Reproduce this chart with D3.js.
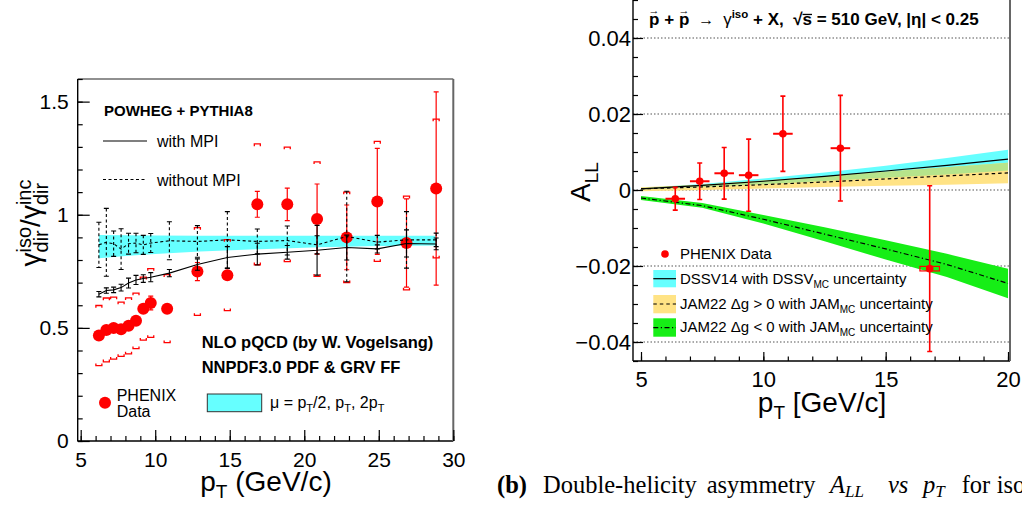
<!DOCTYPE html>
<html><head><meta charset="utf-8">
<script src="https://cdn.jsdelivr.net/npm/d3@7/dist/d3.min.js"></script>
<style>html,body{margin:0;padding:0;background:#fff;overflow:hidden}svg{display:block}svg text{white-space:pre}</style>
</head><body>
<svg id="chart" width="1022" height="514"></svg>
<script>
// ===== Left panel: gamma_iso / gamma_inc (direct) =====
const ratioPt   = [6.22,6.72,7.21,7.71,8.21,8.71,9.2,9.7,10.8,12.83,14.84,16.85,18.86,20.86,22.85,24.9,26.86,28.85];
const ratioVal  = [0.466,0.491,0.499,0.494,0.509,0.531,0.585,0.61,0.585,0.749,0.733,1.046,1.046,0.981,0.9,1.059,0.875,1.116];
const ratioStat = [0.008,0.008,0.008,0.008,0.008,0.01,0.012,0.03,0.01,0.04,0.01,0.057,0.072,0.155,0.143,0.234,0.195,0.427];
const ratioSys  = [0.133,0.141,0.137,0.12,0.124,0.123,0.139,0.152,0.15,0.194,0.157,0.267,0.253,0.253,0.2,0.265,0.207,0.307];
const mpiPt     = [6.22,6.72,7.21,7.71,8.21,8.71,9.2,9.7,10.95,12.83,14.84,16.85,18.86,20.86,22.85,24.9,26.86,28.85];
const mpiVal    = [0.649,0.665,0.668,0.678,0.698,0.712,0.718,0.724,0.742,0.78,0.811,0.826,0.834,0.843,0.855,0.849,0.873,0.871];
const mpiErr    = [0.012,0.012,0.012,0.015,0.022,0.02,0.017,0.02,0.016,0.025,0.048,0.048,0.03,0.11,0.055,0.018,0.06,0.026];
const noMpiVal  = [0.867,0.878,0.872,0.848,0.872,0.875,0.867,0.875,0.885,0.882,0.889,0.882,0.886,0.867,0.904,0.879,0.889,0.889];
const noMpiErr  = [0.1,0.15,0.056,0.09,0.046,0.043,0.042,0.042,0.084,0.07,0.125,0.055,0.064,0.04,0.2,0.03,0.125,0.03];
const scalePt   = [6.22,8,10,13,17,21,25,28.85];
const scaleLo   = [0.808,0.818,0.827,0.838,0.848,0.856,0.862,0.864];
const scaleHi   = [0.91,0.909,0.908,0.907,0.907,0.907,0.907,0.907];
const leftXTicks = [5,10,15,20,25,30];
const leftYTicks = [0,0.5,1,1.5];

// ===== Right panel: A_LL =====
const allPt  = [6.4,7.4,8.4,9.4,10.8,13.15,16.8];
const allVal = [-0.0023,0.0023,0.0044,0.0039,0.0148,0.011,-0.0207];
const allErr = [0.003,0.0048,0.0068,0.0095,0.0099,0.0139,0.0218];
const allBin = [0.4,0.4,0.4,0.4,0.4,0.4,0.4];
const allSys = [0,0,0,0,0,0,0.0006];
const thPt   = [5,7.5,10,12.5,15,17.5,20];
const dssvC  = [0.0003,0.0012,0.0023,0.0036,0.0050,0.0065,0.0081];
const dssvLo = [0.0001,0.0008,0.0015,0.0024,0.0032,0.0041,0.0051];
const dssvHi = [0.0005,0.0016,0.0030,0.0046,0.0064,0.0084,0.0106];
const jamPC  = [0.0003,0.0008,0.0014,0.0021,0.0029,0.0037,0.0045];
const jamPLo = [-0.0003,0.0000,0.0004,0.0008,0.0011,0.0014,0.0018];
const jamPHi = [0.0007,0.0014,0.0025,0.0036,0.0048,0.0060,0.0072];
const jamNC  = [-0.0021,-0.0041,-0.0077,-0.0116,-0.0155,-0.0196,-0.0246];
const jamNLo = [-0.0026,-0.0047,-0.0088,-0.0135,-0.0183,-0.0229,-0.0285];
const jamNHi = [-0.0016,-0.0034,-0.0066,-0.0098,-0.0132,-0.0168,-0.0207];
const rightXTicks = [5,10,15,20];
const rightYTicks = [-0.04,-0.02,0,0.02,0.04];

const SANS = "'Liberation Sans', Arial, Helvetica, sans-serif";
const SERIF = "'Liberation Serif', 'Times New Roman', serif";
const svg = d3.select("#chart");

// rich text helper (sub/superscripts, stacked scripts, overlines)
function rich(parent, x, y, parts, o = {}) {
  const outer = parent.append("g").attr("transform", `translate(${x},${y})` + (o.rot ? ` rotate(${o.rot})` : ""));
  const g = outer.append("g");
  let cx = 0, prevStart = 0;
  for (const p of parts) {
    const s = p.s || o.s || 16;
    const t = g.append("text").text(p.t)
      .attr("xml:space", "preserve")
      .style("white-space", "pre")
      .attr("font-size", s)
      .attr("font-weight", (p.b !== undefined ? p.b : o.b) ? "bold" : "normal")
      .attr("font-style", p.i ? "italic" : "normal")
      .attr("font-family", p.f || o.f || SANS)
      .attr("fill", p.c || o.c || "#000")
      .attr("y", p.dy || 0);
    const start = p.stack ? prevStart + (p.dx || 0) : cx + (p.dx || 0);
    t.attr("x", start);
    const w = t.node().getComputedTextLength();
    if (p.over) {
      g.append("line").attr("x1", start).attr("x2", start + w)
        .attr("y1", (p.dy || 0) - s * 0.62).attr("y2", (p.dy || 0) - s * 0.62)
        .attr("stroke", "#000").attr("stroke-width", 1.3);
    }
    if (!p.stack) prevStart = start;
    cx = p.stack ? Math.max(cx, start + w) : start + w;
  }
  const anchor = o.anchor || "start";
  const off = anchor === "middle" ? -cx / 2 : anchor === "end" ? -cx : 0;
  g.attr("transform", `translate(${off},0)`);
  return outer;
}
function styleAxis(g, size) {
  g.select(".domain").remove();
  g.selectAll("text").attr("font-size", size).attr("font-family", SANS).attr("fill", "#000");
  g.selectAll("line").attr("stroke", "#000").attr("stroke-width", 1.2);
}

// ================= LEFT PANEL =================
const xL = d3.scaleLinear().domain([5, 30]).range([80.7, 453.3]);
const yL = d3.scaleLinear().domain([0, 1.6]).range([441, 79]);
const L = svg.append("g");

const scaleRows = scalePt.map((p, i) => ({ p, lo: scaleLo[i], hi: scaleHi[i] }));
L.append("path").datum(scaleRows)
  .attr("d", d3.area().x(d => xL(d.p)).y0(d => yL(d.lo)).y1(d => yL(d.hi)))
  .attr("fill", "#66ffff");

// PHENIX data
const rRows = ratioPt.map((p, i) => ({ p, v: ratioVal[i], e: ratioStat[i], s: ratioSys[i] }));
const rg = L.append("g");
rRows.forEach(d => {
  const x = xL(d.p);
  const yu = yL(d.v + d.s), yd = yL(d.v - d.s);
  rg.append("path").attr("d", `M${x-3},${yu+2.2}V${yu}H${x+3}V${yu+2.2}M${x-3},${yd-2.2}V${yd}H${x+3}V${yd-2.2}`)
    .attr("fill", "none").attr("stroke", "#f00").attr("stroke-width", 1.3);
  const ya = yL(d.v + d.e), yb = yL(d.v - d.e);
  rg.append("path").attr("d", `M${x},${ya}V${yb}M${x-2.5},${ya}H${x+2.5}M${x-2.5},${yb}H${x+2.5}`)
    .attr("fill", "none").attr("stroke", "#f00").attr("stroke-width", 1.2);
  rg.append("circle").attr("cx", x).attr("cy", yL(d.v)).attr("r", 6).attr("fill", "#f00");
});

// POWHEG curves
function drawSeries(vals, errs, dash) {
  const rows = mpiPt.map((p, i) => ({ p, v: vals[i], e: errs[i] }));
  const g = L.append("g");
  g.append("path").datum(rows).attr("d", d3.line().x(d => xL(d.p)).y(d => yL(d.v)))
    .attr("fill", "none").attr("stroke", "#000").attr("stroke-width", 1.1)
    .attr("stroke-dasharray", dash || null);
  rows.forEach(d => {
    const x = xL(d.p), ya = yL(d.v + d.e), yb = yL(d.v - d.e);
    g.append("line").attr("x1", x).attr("x2", x).attr("y1", ya).attr("y2", yb)
      .attr("stroke", "#000").attr("stroke-width", 1.1).attr("stroke-dasharray", dash || null);
    g.append("path").attr("d", `M${x-2.5},${ya}H${x+2.5}M${x-2.5},${yb}H${x+2.5}`)
      .attr("stroke", "#000").attr("stroke-width", 1.1);
  });
}
drawSeries(noMpiVal, noMpiErr, "3,2.5");
drawSeries(mpiVal, mpiErr, null);

// frame
L.append("line").attr("x1", 77.7).attr("x2", 77.7).attr("y1", 79).attr("y2", 441).attr("stroke", "#000").attr("stroke-width", 1.4);
L.append("line").attr("x1", 77.7).attr("x2", 453.3).attr("y1", 441).attr("y2", 441).attr("stroke", "#000").attr("stroke-width", 1.4);
L.append("line").attr("x1", 77.7).attr("x2", 453.3).attr("y1", 79).attr("y2", 79).attr("stroke", "#222").attr("stroke-width", 1.2);
L.append("line").attr("x1", 453.3).attr("x2", 453.3).attr("y1", 79).attr("y2", 441).attr("stroke", "#666").attr("stroke-width", 2);

// axes
L.append("g").attr("transform", "translate(0,441)")
  .call(d3.axisBottom(xL).tickValues(d3.range(5, 31)).tickSize(-5).tickFormat(""))
  .call(g => styleAxis(g, 21));
L.append("g").attr("transform", "translate(0,441)")
  .call(d3.axisBottom(xL).tickValues(leftXTicks).tickSize(-11).tickPadding(11).tickFormat(d3.format("d")))
  .call(g => styleAxis(g, 21));
L.append("g").attr("transform", "translate(77.7,0)")
  .call(d3.axisLeft(yL).tickValues(d3.range(0, 17).map(i => i / 10)).tickSize(-5).tickFormat(""))
  .call(g => styleAxis(g, 21));
L.append("g").attr("transform", "translate(77.7,0)")
  .call(d3.axisLeft(yL).tickValues(leftYTicks).tickSize(-12).tickPadding(9).tickFormat(d => d === 0 ? "0" : d === 1 ? "1" : d3.format(".1f")(d)))
  .call(g => styleAxis(g, 21));

// axis titles
rich(L, 266, 491, [{ t: "p" }, { t: "T", s: 19, dy: 7 }, { t: " (GeV/c)" }], { s: 28, anchor: "middle" });
rich(L, 40, 223, [
  { t: "γ" }, { t: "iso", s: 20, dy: -9 }, { t: "dir", s: 20, dy: 8, stack: true },
  { t: "/" }, { t: "γ" }, { t: "inc", s: 20, dy: -9 }, { t: "dir", s: 20, dy: 8, stack: true }
], { s: 28, anchor: "middle", rot: -90 });

// legends / labels
rich(L, 104, 116, [{ t: "POWHEG + PYTHIA8" }], { s: 15, b: true });
L.append("line").attr("x1", 103).attr("x2", 147).attr("y1", 141).attr("y2", 141).attr("stroke", "#000").attr("stroke-width", 1.1);
rich(L, 157, 147, [{ t: "with MPI" }], { s: 16 });
L.append("line").attr("x1", 103).attr("x2", 147).attr("y1", 179.5).attr("y2", 179.5).attr("stroke", "#000").attr("stroke-width", 1.1).attr("stroke-dasharray", "3,2.5");
rich(L, 157, 185.5, [{ t: "without MPI" }], { s: 16 });
rich(L, 201.7, 348.3, [{ t: "NLO pQCD (by W. Vogelsang)" }], { s: 16.5, b: true });
rich(L, 201.7, 373.3, [{ t: "NNPDF3.0 PDF & GRV FF" }], { s: 16.5, b: true });
L.append("circle").attr("cx", 105).attr("cy", 402.7).attr("r", 6).attr("fill", "#f00");
rich(L, 116.7, 400.7, [{ t: "PHENIX" }], { s: 16 });
rich(L, 116.7, 416.7, [{ t: "Data" }], { s: 16 });
L.append("rect").attr("x", 207.3).attr("y", 394).attr("width", 54.4).attr("height", 17.7)
  .attr("fill", "#66ffff").attr("stroke", "#333").attr("stroke-width", 1);
rich(L, 270, 408.3, [
  { t: "μ = p" }, { t: "T", s: 11, dy: 4 }, { t: "/2, p" }, { t: "T", s: 11, dy: 4 }, { t: ", 2p" }, { t: "T", s: 11, dy: 4 }
], { s: 16 });

// ================= RIGHT PANEL =================
const xR = d3.scaleLinear().domain([5, 20]).range([641, 1008]);
const yR = d3.scaleLinear().domain([-0.045, 0.05]).range([361, 0]);
const R = svg.append("g");

// grid
R.append("g").selectAll("line").data(rightYTicks).join("line")
  .attr("x1", 633).attr("x2", 1010).attr("y1", d => yR(d)).attr("y2", d => yR(d))
  .attr("stroke", "#555").attr("stroke-width", 1.2).attr("stroke-dasharray", "1.5,2");

const rowsOf = (c, lo, hi) => thPt.map((p, i) => ({ p, c: c[i], lo: lo[i], hi: hi[i] }));
const dssv = rowsOf(dssvC, dssvLo, dssvHi);
const jamP = rowsOf(jamPC, jamPLo, jamPHi);
const jamN = rowsOf(jamNC, jamNLo, jamNHi);
const overlap = thPt.map((p, i) => ({ p, lo: Math.max(dssvLo[i], jamPLo[i]), hi: Math.min(dssvHi[i], jamPHi[i]) }));
const area = d3.area().x(d => xR(d.p)).y0(d => yR(d.lo)).y1(d => yR(d.hi));
const cline = d3.line().x(d => xR(d.p)).y(d => yR(d.c));
R.append("path").datum(jamN).attr("d", area).attr("fill", "#16ee16");
R.append("path").datum(dssv).attr("d", area).attr("fill", "#66ffff");
R.append("path").datum(jamP).attr("d", area).attr("fill", "#ffe385");
R.append("path").datum(overlap).attr("d", area).attr("fill", "#b6e48b");
R.append("path").datum(dssv).attr("d", cline).attr("fill", "none").attr("stroke", "#000").attr("stroke-width", 1.2);
R.append("path").datum(jamP).attr("d", cline).attr("fill", "none").attr("stroke", "#000").attr("stroke-width", 1.2).attr("stroke-dasharray", "3.5,3");
R.append("path").datum(jamN).attr("d", cline).attr("fill", "none").attr("stroke", "#000").attr("stroke-width", 1.2).attr("stroke-dasharray", "5,2.5,1.2,2.5");

// data
const aRows = allPt.map((p, i) => ({ p, v: allVal[i], e: allErr[i], b: allBin[i], s: allSys[i] }));
aRows.forEach(d => {
  const x = xR(d.p), y = yR(d.v), ya = yR(d.v + d.e), yb = yR(d.v - d.e);
  if (d.s > 0) {
    R.append("rect").attr("x", xR(d.p - d.b)).attr("width", xR(d.p + d.b) - xR(d.p - d.b))
      .attr("y", yR(d.v + d.s)).attr("height", yR(d.v - d.s) - yR(d.v + d.s))
      .attr("fill", "none").attr("stroke", "#f00").attr("stroke-width", 1.2);
  }
  R.append("path").attr("d", `M${x},${ya}V${yb}M${x-2.5},${ya}H${x+2.5}M${x-2.5},${yb}H${x+2.5}`)
    .attr("fill", "none").attr("stroke", "#f00").attr("stroke-width", 1.6);
  if (d.s === 0) R.append("line").attr("x1", xR(d.p - d.b)).attr("x2", xR(d.p + d.b)).attr("y1", y).attr("y2", y)
    .attr("stroke", "#f00").attr("stroke-width", 2);
  R.append("circle").attr("cx", x).attr("cy", y).attr("r", 3.8).attr("fill", "#f00");
});

// frame
R.append("line").attr("x1", 633).attr("x2", 633).attr("y1", 0).attr("y2", 361).attr("stroke", "#000").attr("stroke-width", 1.4);
R.append("line").attr("x1", 633).attr("x2", 1010).attr("y1", 361).attr("y2", 361).attr("stroke", "#000").attr("stroke-width", 1.4);
R.append("line").attr("x1", 1010).attr("x2", 1010).attr("y1", 0).attr("y2", 361).attr("stroke", "#666").attr("stroke-width", 2);

// axes
R.append("g").attr("transform", "translate(0,361)")
  .call(d3.axisBottom(xR).tickValues(d3.range(5, 21)).tickSize(-4.5).tickFormat(""))
  .call(g => styleAxis(g, 22));
R.append("g").attr("transform", "translate(0,361)")
  .call(d3.axisBottom(xR).tickValues(rightXTicks).tickSize(-9).tickPadding(10).tickFormat(d3.format("d")))
  .call(g => styleAxis(g, 22));
R.append("g").attr("transform", "translate(633,0)")
  .call(d3.axisLeft(yR).tickValues(d3.range(-9, 11).map(i => i * 0.005)).tickSize(-5).tickFormat(""))
  .call(g => styleAxis(g, 22));
R.append("g").attr("transform", "translate(633,0)")
  .call(d3.axisLeft(yR).tickValues(rightYTicks).tickSize(-10).tickPadding(2).tickFormat(d => d === 0 ? "0" : d3.format(".2f")(d)))
  .call(g => styleAxis(g, 22));

// titles
rich(R, 822, 411.5, [{ t: "p" }, { t: "T", s: 19, dy: 7 }, { t: " [GeV/c]" }], { s: 28, anchor: "middle" });
rich(R, 590, 182, [{ t: "A" }, { t: "LL", s: 19, dy: 8 }], { s: 28, anchor: "middle", rot: -90 });

// header
rich(R, 649, 25, [
  { t: "p" }, { t: "→", s: 11, dy: -11.5, stack: true, b: false, dx: -0.5 },
  { t: " + " }, { t: "p" }, { t: "→", s: 11, dy: -11.5, stack: true, b: false, dx: -0.5 },
  { t: "  →  ", b: false, s: 16 }, { t: "γ", b: false }, { t: "iso", s: 11.5, dy: -7.5 },
  { t: " + X,  " }, { t: "√" }, { t: "s", over: true },
  { t: " = 510 GeV, |η| < 0.25" }
], { s: 17, b: true });

// legend
R.append("circle").attr("cx", 665).attr("cy", 254).attr("r", 3.8).attr("fill", "#f00");
rich(R, 680, 259.3, [{ t: "PHENIX Data" }], { s: 15 });
R.append("rect").attr("x", 653.3).attr("y", 270).attr("width", 22.7).attr("height", 17.3).attr("fill", "#66ffff");
R.append("line").attr("x1", 653.3).attr("x2", 676).attr("y1", 278.7).attr("y2", 278.7).attr("stroke", "#000").attr("stroke-width", 1.2);
rich(R, 680, 283.5, [{ t: "DSSV14 with DSSV" }, { t: "MC", s: 10, dy: 4 }, { t: " uncertainty" }], { s: 15 });
R.append("rect").attr("x", 653.3).attr("y", 295).attr("width", 22.7).attr("height", 18.3).attr("fill", "#ffe385");
R.append("line").attr("x1", 653.3).attr("x2", 676).attr("y1", 304).attr("y2", 304).attr("stroke", "#000").attr("stroke-width", 1.2).attr("stroke-dasharray", "3.5,3");
rich(R, 680, 308.5, [{ t: "JAM22 Δg > 0 with JAM" }, { t: "MC", s: 10, dy: 4 }, { t: " uncertainty" }], { s: 15 });
R.append("rect").attr("x", 653.3).attr("y", 318.3).attr("width", 22.7).attr("height", 18.4).attr("fill", "#16ee16");
R.append("line").attr("x1", 653.3).attr("x2", 676).attr("y1", 327.7).attr("y2", 327.7).attr("stroke", "#000").attr("stroke-width", 1.2).attr("stroke-dasharray", "5,2.5,1.2,2.5");
rich(R, 680, 332, [{ t: "JAM22 Δg < 0 with JAM" }, { t: "MC", s: 10, dy: 4 }, { t: " uncertainty" }], { s: 15 });

// caption
const C = svg.append("g");
rich(C, 497, 493, [{ t: "(b)", b: true }], { s: 24.5, f: SERIF });
rich(C, 543, 493, [{ t: "Double-helicity" }], { s: 24.5, f: SERIF });
rich(C, 706.7, 493, [{ t: "asymmetry" }], { s: 24.5, f: SERIF });
rich(C, 830, 493, [{ t: "A", i: true }, { t: "LL", i: true, s: 17, dy: 4 }], { s: 24.5, f: SERIF });
rich(C, 888, 493, [{ t: "vs", i: true }], { s: 24.5, f: SERIF });
rich(C, 923, 493, [{ t: "p", i: true }, { t: "T", i: true, s: 17, dy: 4 }], { s: 24.5, f: SERIF });
rich(C, 961.7, 493, [{ t: "for" }], { s: 24.5, f: SERIF });
rich(C, 996.7, 493, [{ t: "iso" }], { s: 24.5, f: SERIF });
</script>
</body></html>
